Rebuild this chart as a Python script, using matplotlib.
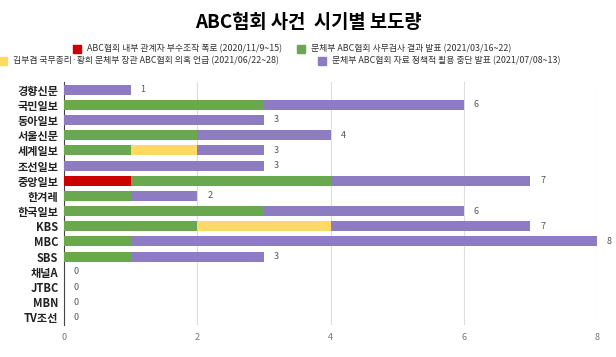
import matplotlib
matplotlib.use("Agg")
import matplotlib.pyplot as plt, numpy as np
from matplotlib.patches import Rectangle

plt.rcParams['font.family'] = ['Noto Sans CJK KR', 'DejaVu Sans']

media = ['경향신문', '국민일보', '동아일보', '서울신문', '세계일보', '조선일보', '중앙일보', '한겨레',
         '한국일보', 'KBS', 'MBC', 'SBS', '채널A', 'JTBC', 'MBN', 'TV조선']
red = [0, 0, 0, 0, 0, 0, 1, 0, 0, 0, 0, 0, 0, 0, 0, 0]
green = [0, 3, 0, 2, 1, 0, 3, 1, 3, 2, 1, 1, 0, 0, 0, 0]
yellow = [0, 0, 0, 0, 1, 0, 0, 0, 0, 2, 0, 0, 0, 0, 0, 0]
purple = [1, 3, 3, 2, 1, 3, 3, 1, 3, 3, 7, 2, 0, 0, 0, 0]
series_names = ['ABC협회 내부 관계자 부수조작 폭로 (2020/11/9~15)',
                '문체부 ABC협회 사무검사 결과 발표 (2021/03/16~22)',
                '김부겸 국무총리·황희 문체부 장관 ABC협회 의혹 언급 (2021/06/22~28)',
                '문체부 ABC협회 자료 정책적 활용 중단 발표 (2021/07/08~13)']
colors = ['#cc0000', '#6aa84f', '#ffd966', '#8e7cc3']

W, H = 616, 357
fig = plt.figure(figsize=(W/100, H/100), dpi=100)
ax = fig.add_axes([64/W, 1-325/H, (597-64)/W, 243/H])

y = np.arange(len(media))
left = np.zeros(len(media))
for vals, c in zip([red, green, yellow, purple], colors):
    ax.barh(y, vals, left=left, height=0.66, color=c, zorder=3)
    left += np.array(vals)

for i, tot in enumerate(left):
    ax.text(tot + 0.15, i, f'{int(tot)}', va='center', ha='left', fontsize=6.5, color='#555555')

ax.set_ylim(len(media) - 0.5, -0.5)
ax.set_xlim(0, 8)
ax.set_yticks(y)
ax.set_yticklabels(media, fontsize=8, fontweight='bold', color='#222222')
ax.set_xticks([0, 2, 4, 6, 8])
ax.tick_params(axis='x', labelsize=6.5, labelcolor='#777777', length=0, pad=6)
ax.tick_params(axis='y', length=0, pad=4)
ax.grid(axis='x', color='#dddddd', lw=0.8, zorder=0)
for s in ['top', 'right', 'bottom']:
    ax.spines[s].set_visible(False)
ax.spines['left'].set_color('#444444')
ax.spines['left'].set_linewidth(0.8)

fig.text(0.5, 1-23/H, 'ABC협회 사건  시기별 보도량', ha='center', va='center',
         fontsize=13.5, fontweight='bold')

# legend laid out row by row like the original (x of marker, y of row)
legend_pos = [(73, 49), (297, 49), (-1, 61), (318, 61)]
for (lx, ly), name, c in zip(legend_pos, series_names, colors):
    fig.patches.append(Rectangle((lx/W, 1-(ly+4)/H), 8/W, 8/H, color=c,
                                 transform=fig.transFigure, figure=fig))
    fig.text((lx+14)/W, 1-ly/H, name, ha='left', va='center', fontsize=6.4, color='#333333')

fig.savefig('out.png', dpi=100)
